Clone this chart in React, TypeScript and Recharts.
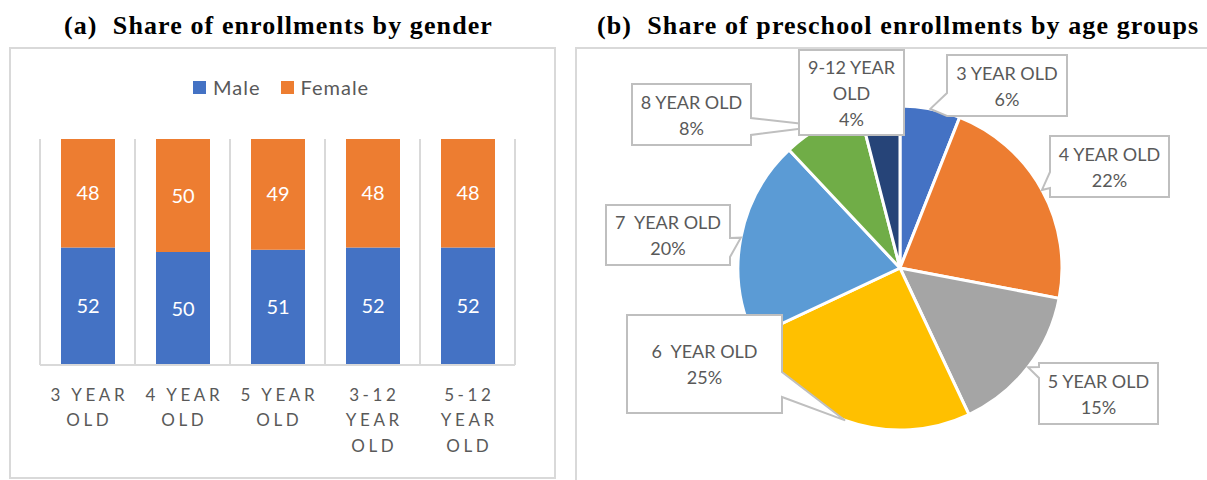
import React from 'react';
import { BarChart, Bar, XAxis, YAxis, CartesianGrid, LabelList, PieChart, Pie, Cell } from 'recharts';

// ---------- Data ----------
const genderCategories = ['3 YEAR\nOLD', '4 YEAR\nOLD', '5 YEAR\nOLD', '3-12\nYEAR\nOLD', '5-12\nYEAR\nOLD'];
const maleShare = [52, 50, 51, 52, 52];
const femaleShare = [48, 50, 49, 48, 48];
const seriesNames = ['Male', 'Female'];
const seriesColors = ['#4472C4', '#ED7D31'];

const ageGroups = ['3 YEAR OLD', '4 YEAR OLD', '5 YEAR OLD', '6  YEAR OLD', '7  YEAR OLD', '8 YEAR OLD', '9-12 YEAR\nOLD'];
const ageShares = [6, 22, 15, 25, 20, 8, 4];
const ageColors = ['#4472C4', '#ED7D31', '#A5A5A5', '#FFC000', '#5B9BD5', '#70AD47', '#264478'];

// ---------- Layout (callout boxes, relative to pie centre) ----------
const calloutLayout = [
  { dx: 47, dy: -213, w: 120, h: 61, side: 'left', b1: 38, b2: 61 },
  { dx: 150, dy: -132, w: 119, h: 61, side: 'left', b1: 36, b2: 52 },
  { dx: 139, dy: 95, w: 119, h: 61, side: 'left', b1: 4, b2: 15 },
  { dx: -273, dy: 47, w: 155, h: 98, side: 'right', b1: 57, b2: 82 },
  { dx: -294, dy: -63, w: 124, h: 60, side: 'right', b1: 33, b2: 52 },
  { dx: -268, dy: -184, w: 119, h: 61, side: 'right', b1: 34, b2: 51 },
  { dx: -101, dy: -218, w: 105, h: 85, side: 'none', b1: 0, b2: 0 },
];

const barData = genderCategories.map((c, i) => ({ name: c, Male: maleShare[i], Female: femaleShare[i] }));
const pieData = ageGroups.map((g, i) => ({ name: g, value: ageShares[i] }));

const FONT = 'Lato, "Open Sans", sans-serif';
const TITLE_FONT = '"Liberation Serif", "DejaVu Serif", serif';
const GRAY = '#595959';
const RAD = Math.PI / 180;

const CategoryTick = (props: any) => {
  const { x, y, payload } = props;
  const lines = String(payload.value).split('\n');
  const sp = 3.6;
  return (
    <g>
      {lines.map((l, i) => (
        <text key={i} x={x + sp / 2} y={y + 22 + i * 25.5} dy="0.35em" textAnchor="middle" fill={GRAY}
          style={{ fontFamily: FONT, fontSize: 17, letterSpacing: sp }}>
          {l}
        </text>
      ))}
    </g>
  );
};

const calloutPath = (x: number, y: number, w: number, h: number, side: string, b1: number, b2: number, tx: number, ty: number) => {
  const pts: [number, number][] = [];
  pts.push([x, y]);
  pts.push([x + w, y]);
  if (side === 'right') {
    pts.push([x + w, y + b1]);
    pts.push([tx, ty]);
    pts.push([x + w, y + b2]);
  }
  pts.push([x + w, y + h]);
  pts.push([x, y + h]);
  if (side === 'left') {
    pts.push([x, y + b2]);
    pts.push([tx, ty]);
    pts.push([x, y + b1]);
  }
  return 'M' + pts.map((p) => p[0] + ',' + p[1]).join(' L') + ' Z';
};

const PieCallout = (props: any) => {
  const { cx, cy, midAngle, outerRadius, index, name, value } = props;
  const L = calloutLayout[index];
  const tx = cx + Math.cos(-midAngle * RAD) * outerRadius;
  const ty = cy + Math.sin(-midAngle * RAD) * outerRadius;
  const bx = cx + L.dx;
  const by = cy + L.dy;
  const lines = [...String(name).split('\n'), `${value}%`];
  const lh = 26;
  const startY = by + L.h / 2 - ((lines.length - 1) * lh) / 2 + 1;
  return (
    <g>
      <path d={calloutPath(bx, by, L.w, L.h, L.side, L.b1, L.b2, tx, ty)} fill="#fff" stroke="#BFBFBF" strokeWidth={2} />
      {lines.map((l, i) => (
        <text key={i} x={bx + L.w / 2} y={startY + i * lh} dy="0.35em" textAnchor="middle" fill={GRAY}
          style={{ fontFamily: FONT, fontSize: 18, whiteSpace: 'pre' }}>
          {l}
        </text>
      ))}
    </g>
  );
};

const titleStyle: React.CSSProperties = {
  position: 'absolute', top: 9, fontFamily: TITLE_FONT, fontWeight: 'bold', fontSize: 26,
  letterSpacing: 1.1, color: '#000', whiteSpace: 'pre', lineHeight: '34px',
};

export default function App() {
  return (
    <div style={{ position: 'absolute', left: 0, top: 0, width: 1207, height: 480, background: '#fff', overflow: 'hidden' }}>
      {/* Panel (a) */}
      <div style={{ ...titleStyle, left: 0, width: 557, textAlign: 'center' }}>
        {'(a)  Share of enrollments by gender'}
      </div>
      <div style={{ position: 'absolute', left: 9, top: 47, width: 543, height: 428, border: '2px solid #D9D9D9' }} />
      {/* legend */}
      <div style={{ position: 'absolute', left: 193, top: 74, display: 'flex', alignItems: 'center', fontFamily: FONT, fontSize: 20, letterSpacing: 1, color: GRAY, lineHeight: '26px' }}>
        {seriesNames.map((s, i) => (
          <React.Fragment key={s}>
            <span style={{ display: 'inline-block', width: 13, height: 13, background: seriesColors[i], marginRight: 7 }} />
            <span style={{ marginRight: i === 0 ? 20 : 0 }}>{s}</span>
          </React.Fragment>
        ))}
      </div>
      <div style={{ position: 'absolute', left: 8, top: 46 }}>
        <BarChart width={547} height={433} data={barData} margin={{ top: 93, right: 40, left: 32, bottom: 14 }}>
          <CartesianGrid horizontal={false} stroke="#D9D9D9" strokeWidth={2}
            verticalCoordinatesGenerator={({ offset }: any) => genderCategories.map((_, i) => offset.left + (i * offset.width) / genderCategories.length).concat([offset.left + offset.width])} />
          <XAxis dataKey="name" height={100} tickLine={false} axisLine={{ stroke: '#D9D9D9', strokeWidth: 2 }} tick={<CategoryTick />} interval={0} />
          <YAxis hide domain={[0, 100]} />
          {seriesNames.map((s, i) => (
            <Bar key={s} dataKey={s} stackId="a" fill={seriesColors[i]} barSize={54} isAnimationActive={false}>
              <LabelList dataKey={s} position="center" fill="#fff" style={{ fontFamily: FONT, fontSize: 20 }} />
            </Bar>
          ))}
        </BarChart>
      </div>

      {/* Panel (b) */}
      <div style={{ ...titleStyle, left: 597 }}>
        {'(b)  Share of preschool enrollments by age groups'}
      </div>
      <div style={{ position: 'absolute', left: 575, top: 47, width: 700, height: 500, border: '2px solid #D9D9D9' }} />
      <div style={{ position: 'absolute', left: 575, top: 46 }}>
        <PieChart width={632} height={434} margin={{ top: 0, right: 0, bottom: 0, left: 0 }}>
          <Pie data={pieData} dataKey="value" nameKey="name" cx={325} cy={222} outerRadius={162} startAngle={90} endAngle={-270}
            stroke="#fff" strokeWidth={3} label={PieCallout} labelLine={false} isAnimationActive={false}>
            {pieData.map((_, i) => (
              <Cell key={i} fill={ageColors[i]} />
            ))}
          </Pie>
        </PieChart>
      </div>
    </div>
  );
}
